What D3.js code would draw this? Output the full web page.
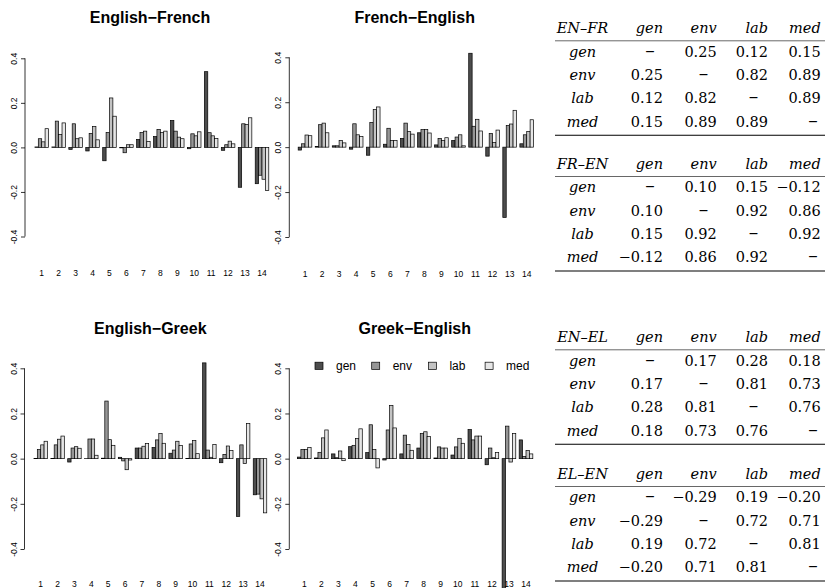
<!DOCTYPE html>
<html>
<head>
<meta charset="utf-8">
<script src="https://cdn.jsdelivr.net/npm/d3@7"></script>
<style>
  body { margin: 0; background: #fff; }
  svg { display: block; }
</style>
</head>
<body>
<script>
// series and groups
const series = ["gen", "env", "lab", "med"];
const groups = d3.range(1, 15);
const colors = ["#4d4d4d", "#969696", "#c3c3c3", "#e6e6e6"];
const yTicks = [-0.4, -0.2, 0.0, 0.2, 0.4];

// values per group: gen, env, lab, med
const enFr = [
  [0.002, 0.039, 0.025, 0.084], [0.002, 0.118, 0.058, 0.110], [-0.009, 0.106, 0.039, 0.043],
  [-0.016, 0.063, 0.094, 0.034], [-0.060, 0.067, 0.222, 0.140], [-0.002, -0.024, 0.012, 0.012],
  [0.036, 0.067, 0.073, 0.027], [0.049, 0.081, 0.067, 0.073], [0.121, 0.073, 0.046, 0.039],
  [-0.006, 0.061, 0.052, 0.070], [0.340, 0.066, 0.052, 0.040], [-0.013, 0.012, 0.028, 0.016],
  [-0.179, 0.106, 0.103, 0.133], [-0.163, -0.125, -0.143, -0.194]
];
const frEn = [
  [-0.013, 0.015, 0.054, 0.051], [0.003, 0.100, 0.107, 0.064], [0.006, 0.006, 0.030, 0.019],
  [-0.009, 0.104, 0.055, 0.048], [-0.036, 0.110, 0.167, 0.179], [0.013, 0.084, 0.030, 0.030],
  [0.039, 0.107, 0.069, 0.058], [0.064, 0.078, 0.078, 0.063], [0.010, 0.039, 0.030, 0.042],
  [0.030, 0.045, 0.055, 0.006], [0.418, 0.093, 0.124, 0.072], [-0.040, 0.061, 0.021, 0.076],
  [-0.313, 0.096, 0.103, 0.164], [0.015, 0.055, 0.070, 0.122]
];
const enEl = [
  [0.001, 0.040, 0.061, 0.077], [0.001, 0.061, 0.086, 0.100], [-0.015, 0.047, 0.053, 0.046],
  [0.000, 0.087, 0.087, 0.015], [0.002, 0.255, 0.084, 0.059], [0.006, -0.010, -0.049, -0.006],
  [0.047, 0.047, 0.055, 0.067], [0.050, 0.083, 0.111, 0.068], [0.024, 0.038, 0.077, 0.058],
  [0.001, 0.065, 0.080, 0.022], [0.424, 0.038, 0.006, 0.062], [-0.018, 0.019, 0.056, 0.036],
  [-0.256, 0.061, -0.022, 0.155], [-0.160, -0.157, -0.178, -0.240]
];
const elEn = [
  [0.007, 0.041, 0.041, 0.050], [0.003, 0.028, 0.092, 0.127], [0.021, 0.004, 0.034, -0.009],
  [0.053, 0.059, 0.089, 0.132], [0.027, 0.150, 0.041, -0.041], [-0.006, 0.127, 0.236, 0.136],
  [0.021, 0.104, 0.062, 0.037], [0.047, 0.111, 0.119, 0.098], [0.003, 0.052, 0.047, 0.047],
  [0.016, 0.052, 0.090, 0.068], [0.129, 0.083, 0.100, 0.100], [-0.027, 0.047, 0.004, 0.027],
  [-0.620, 0.144, -0.015, 0.111], [0.083, 0.010, 0.036, 0.021]
];

// correlation tables (null = diagonal)
const corrEnFr = [[null, 0.25, 0.12, 0.15], [0.25, null, 0.82, 0.89], [0.12, 0.82, null, 0.89], [0.15, 0.89, 0.89, null]];
const corrFrEn = [[null, 0.10, 0.15, -0.12], [0.10, null, 0.92, 0.86], [0.15, 0.92, null, 0.92], [-0.12, 0.86, 0.92, null]];
const corrEnEl = [[null, 0.17, 0.28, 0.18], [0.17, null, 0.81, 0.73], [0.28, 0.81, null, 0.76], [0.18, 0.73, 0.76, null]];
const corrElEn = [[null, -0.29, 0.19, -0.20], [-0.29, null, 0.72, 0.71], [0.19, 0.72, null, 0.81], [-0.20, 0.71, 0.81, null]];

const W = 827, H = 588;
const svg = d3.select("body").append("svg")
  .attr("width", W).attr("height", H);
svg.append("rect").attr("width", W).attr("height", H).attr("fill", "#fff");

const sans = "'Liberation Sans', Arial, Helvetica, sans-serif";
const serif = "'DejaVu Serif', serif";

const panels = [
  {title: "English\u2212French", values: enFr, axisX: 25, c1: 41.7, c14: 262, y4: 58.3, yM4: 236.5, titleX: 150, titleY: 23.3, tickY: 273.5},
  {title: "French\u2212English", values: frEn, axisX: 289.3, c1: 305, c14: 526.7, y4: 57.3, yM4: 237, titleX: 414.7, titleY: 22.7, tickY: 274},
  {title: "English\u2212Greek", values: enEl, axisX: 24.5, c1: 40.7, c14: 260, y4: 368.3, yM4: 549, titleX: 150.3, titleY: 334.3, tickY: 584.3},
  {title: "Greek\u2212English", values: elEn, axisX: 289.3, c1: 304.3, c14: 526, y4: 368.3, yM4: 549, titleX: 414.8, titleY: 334.3, tickY: 584.3, legend: true}
];

panels.forEach(p => {
  const g = svg.append("g");
  // group centres sit at 3, 8, ..., 68 in barplot units
  const x = d3.scaleLinear().domain([3, 68]).range([p.c1, p.c14]);
  const y = d3.scaleLinear().domain([-0.4, 0.4]).range([p.yM4, p.y4]);
  const bw = x(1) - x(0);

  const bars = [];
  p.values.forEach((row, i) => row.forEach((v, j) => bars.push({i, j, v})));

  g.selectAll("rect.bar").data(bars).enter().append("rect")
    .attr("class", "bar")
    .attr("x", d => x(1 + 5 * d.i + d.j))
    .attr("width", bw)
    .attr("y", d => Math.min(y(d.v), y(0)))
    .attr("height", d => Math.max(Math.abs(y(d.v) - y(0)), 0.01))
    .attr("fill", d => colors[d.j])
    .attr("stroke", "#000")
    .attr("stroke-width", 0.7);

  // y axis, R style
  const ax = g.append("g").attr("transform", `translate(${p.axisX},0)`)
    .call(d3.axisLeft(y).tickValues(yTicks).tickSize(4).tickFormat(d3.format(".1f")));
  ax.select(".domain").attr("d", `M0,${y(0.4)}V${y(-0.4)}`).attr("stroke-width", 0.8);
  ax.selectAll(".tick line").attr("stroke-width", 0.8);
  ax.selectAll(".tick text")
    .attr("font-family", sans).attr("font-size", 8.5).attr("fill", "#000")
    .attr("x", 0).attr("dy", 0)
    .attr("text-anchor", "middle")
    .attr("transform", "translate(-11,0) rotate(-90)")
    .attr("dominant-baseline", "central")
    .text(d => d3.format(".1f")(d).replace("\u2212", "-"));

  // group labels
  g.selectAll("text.grp").data(groups).enter().append("text")
    .attr("class", "grp")
    .attr("x", d => x(3 + 5 * (d - 1)))
    .attr("y", p.tickY)
    .attr("dy", "0.35em")
    .attr("text-anchor", "middle")
    .attr("font-family", sans).attr("font-size", 8.5)
    .text(d => d);

  g.append("text")
    .attr("x", p.titleX).attr("y", p.titleY)
    .attr("text-anchor", "middle")
    .attr("font-family", sans).attr("font-size", 16).attr("font-weight", "bold")
    .text(p.title);

  if (p.legend) {
    const lg = g.append("g").attr("transform", "translate(315,366)");
    const item = lg.selectAll("g").data(series).enter().append("g")
      .attr("transform", (d, k) => `translate(${k * 56.7},0)`);
    item.append("rect")
      .attr("x", 0).attr("y", -3.8).attr("width", 8).attr("height", 7.2)
      .attr("fill", (d, k) => colors[k]).attr("stroke", "#000").attr("stroke-width", 0.7);
    item.append("text")
      .attr("x", 21).attr("y", 0).attr("dy", "0.35em")
      .attr("font-family", sans).attr("font-size", 12)
      .text(d => d);
  }
});

// tables
const tables = [
  {name: "EN\u2013FR", m: corrEnFr, top: 28.3},
  {name: "FR\u2013EN", m: corrFrEn, top: 164},
  {name: "EN\u2013EL", m: corrEnEl, top: 337.3},
  {name: "EL\u2013EN", m: corrElEn, top: 474}
];
const colRight = [663, 716.7, 768, 820.7];
const dashX = [650, 703.5, 753.5, 813];
const labelX = 582.5;
const fmt = d3.format(".2f");

tables.forEach(t => {
  const g = svg.append("g").attr("font-family", serif).attr("font-size", 14.5);
  const rowY = k => t.top + 23.3 * (k + 1);

  g.append("text").attr("x", labelX).attr("y", t.top).attr("dy", "0.35em")
    .attr("text-anchor", "middle").attr("font-style", "italic").text(t.name);
  g.selectAll("text.hd").data(series).enter().append("text")
    .attr("class", "hd")
    .attr("x", (d, k) => colRight[k]).attr("y", t.top).attr("dy", "0.35em")
    .attr("text-anchor", "end").attr("font-style", "italic").text(d => d);

  g.append("line").attr("x1", 555).attr("x2", 825)
    .attr("y1", t.top + 12.5).attr("y2", t.top + 12.5)
    .attr("stroke", "#000").attr("stroke-width", 0.6);
  g.append("line").attr("x1", 555).attr("x2", 825)
    .attr("y1", t.top + 107).attr("y2", t.top + 107)
    .attr("stroke", "#000").attr("stroke-width", 1.1);

  t.m.forEach((row, r) => {
    g.append("text").attr("x", labelX).attr("y", rowY(r)).attr("dy", "0.35em")
      .attr("text-anchor", "middle").attr("font-style", "italic").text(series[r]);
    row.forEach((v, c) => {
      g.append("text")
        .attr("x", v === null ? dashX[c] : colRight[c])
        .attr("y", rowY(r)).attr("dy", v === null ? "0.27em" : "0.35em")
        .attr("text-anchor", v === null ? "middle" : "end")
        .attr("font-size", v === null ? 19 : null)
        .text(v === null ? "\u2013" : fmt(v));
    });
  });
});
</script>
</body>
</html>
